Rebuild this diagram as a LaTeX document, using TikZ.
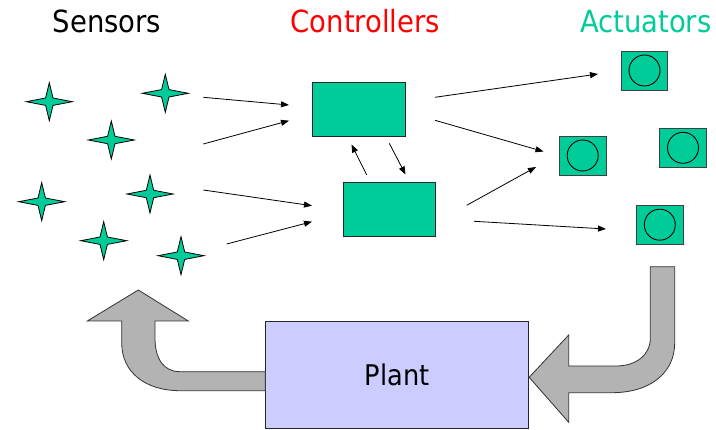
\documentclass[tikz,border=0pt]{standalone}
\usepackage{fontspec}
\setmainfont{DejaVu Sans Condensed}
\usetikzlibrary{arrows.meta}
\definecolor{tealg}{HTML}{00CC99}
\definecolor{plantc}{HTML}{CCCCFF}
\definecolor{bigarrow}{HTML}{B3B3B3}
\tikzset{
  head/.style={font=\fontsize{30.5}{36}\selectfont, anchor=base, inner sep=0pt},
  ctrl/.style={draw=black!85, fill=tealg, line width=0.9pt, minimum width=92.7pt, minimum height=54.3pt, inner sep=0pt},
  act/.style={draw=black!75, fill=tealg, line width=0.9pt, minimum width=46.7pt, minimum height=39pt, inner sep=0pt},
  sig/.style={line width=0.8pt, -{Triangle[length=8pt,width=6pt]}},
  big/.style={fill=bigarrow, draw=black!80, line width=0.8pt},
  sstar/.pic={
    \coordinate (-c) at (0,0);
    \filldraw[fill=tealg, draw=black, line width=0.8pt]
      (-23,0) -- (-3.7,-3.7) -- (0,-19) -- (3.7,-3.7) -- (23,0) -- (3.7,3.7) -- (0,19) -- (-3.7,3.7) -- cycle;
  }
}
\begin{document}
\begin{tikzpicture}[x=1pt,y=-1pt]
\useasboundingbox (0,0) rectangle (716,430);

% headings
\node[head] (hs) at (107,32.3) {Sensors};
\node[head, text=red] (hc) at (365.3,32.3) {Controllers};
\node[head, text=tealg] (ha) at (645.8,32.3) {Actuators};

% sensors
\pic (s1) at (49.3,101.7) {sstar};
\pic (s2) at (165.3,93.3) {sstar};
\pic (s3) at (111.3,140) {sstar};
\pic (s4) at (41.7,201.7) {sstar};
\pic (s5) at (150,194) {sstar};
\pic (s6) at (103.7,240.7) {sstar};
\pic (s7) at (181,255.7) {sstar};

% controllers
\node[ctrl] (c1) at (358.7,109.2) {};
\node[ctrl] (c2) at (389.3,209.3) {};

% actuators
\node[act] (a1) at (644.5,70.5) {};
\node[act] (a2) at (582.7,155.5) {};
\node[act] (a3) at (683,147.8) {};
\node[act] (a4) at (659.8,224.7) {};
\foreach \a in {a1,a2,a3,a4} \draw[line width=0.9pt] (\a.center) circle (15.5);

% arrow endpoints
\coordinate (p1) at (203.3,97.3);  \coordinate (q1) at (289,105);
\coordinate (p2) at (203.3,144);   \coordinate (q2) at (289,120.7);
\coordinate (p3) at (203.3,190);   \coordinate (q3) at (312,205.7);
\coordinate (p4) at (226.7,244);   \coordinate (q4) at (312,221.7);
\coordinate (d1) at (389.3,143.3); \coordinate (d2) at (405.5,174.5);
\coordinate (u1) at (366.7,175);   \coordinate (u2) at (351.5,144.5);
\coordinate (r1) at (435,97.3);    \coordinate (t1) at (598,74);
\coordinate (r2) at (435,120.3);   \coordinate (t2) at (543.5,151.5);
\coordinate (r3) at (466.7,205.3); \coordinate (t3) at (536,167);
\coordinate (r4) at (474,221.3);   \coordinate (t4) at (606,229);

\draw[sig] (p1) -- (q1);
\draw[sig] (p2) -- (q2);
\draw[sig] (p3) -- (q3);
\draw[sig] (p4) -- (q4);
\draw[sig] (d1) -- (d2);
\draw[sig] (u1) -- (u2);
\draw[sig] (r1) -- (t1);
\draw[sig] (r2) -- (t2);
\draw[sig] (r3) -- (t3);
\draw[sig] (r4) -- (t4);

% plant
\node[draw=black!85, fill=plantc, line width=0.9pt, minimum width=263pt, minimum height=107pt, inner sep=0pt,
      font=\fontsize{28.5}{34}\selectfont] (plant) at (397.2,374.5) {Plant};

% big arrow: plant -> sensors
\draw[big] (plant.west |- 0,371.7) -- (180,371.7)
  .. controls (163,371.7) and (155,358) .. (155,338) -- (155,321)
  -- (188.3,321) -- (138.3,290) -- (87.3,321) -- (121.7,321) -- (121.7,343)
  .. controls (121.7,372) and (145,390.7) .. (180,390.7)
  -- (plant.west |- 0,390.7) -- cycle;

% big arrow: actuators -> plant
\draw[big] (650.3,266.7) -- (674.7,266.7) -- (674.7,343)
  .. controls (674.7,373) and (650,392.7) .. (612,392.7)
  -- (568.7,392.7) -- (568.7,422.3) -- (plant.east |- 0,377.3) -- (568.7,335) -- (568.7,366)
  -- (616,366) .. controls (636,366) and (650.3,355) .. (650.3,338.3) -- cycle;
\end{tikzpicture}
\end{document}
